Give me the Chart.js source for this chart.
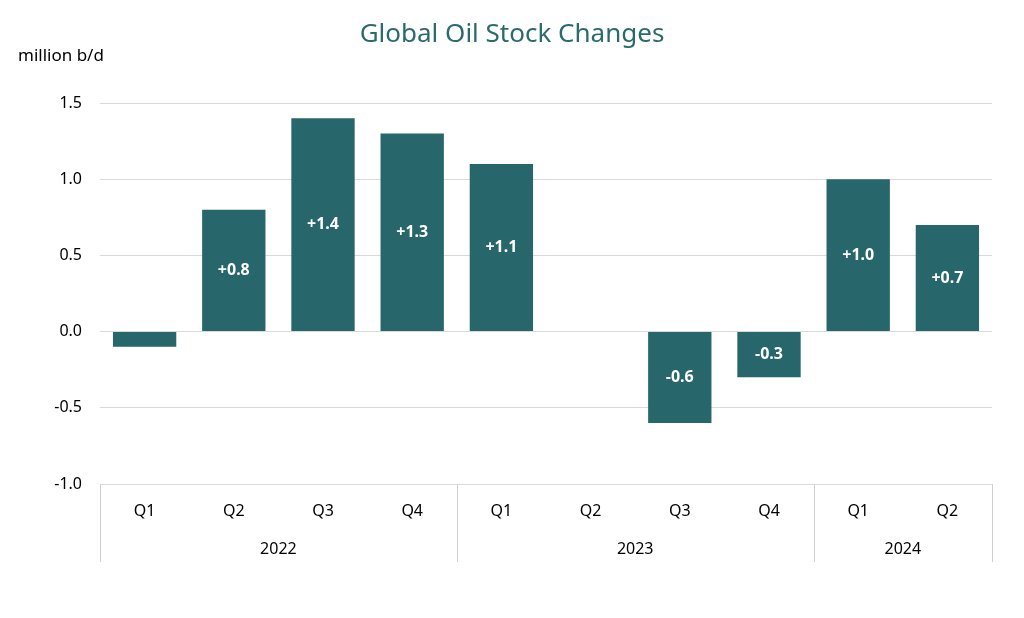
<!DOCTYPE html>
<html>
<head>
<meta charset="utf-8">
<script src="https://cdn.jsdelivr.net/npm/chart.js@4"></script>
<style>body{margin:0;background:#fff}</style>
</head>
<body>
<canvas id="myChart" width="1024" height="618"></canvas>
<script>
  const quarters = ['Q1', 'Q2', 'Q3', 'Q4', 'Q1', 'Q2', 'Q3', 'Q4', 'Q1', 'Q2'];
  const years = ['2022', '2023', '2024'];
  const yearSpans = [4, 4, 2];
  const stockChange = [-0.1, 0.8, 1.4, 1.3, 1.1, 0, -0.6, -0.3, 1.0, 0.7];

  const teal = '#27666b';
  const font = '"Noto Sans", "Liberation Sans", sans-serif';

  const extras = {
    id: 'extras',
    afterDraw(chart) {
      const ctx = chart.ctx;
      const a = chart.chartArea;
      const x = chart.scales.x;
      const y = chart.scales.y;
      ctx.save();
      // title + unit
      ctx.fillStyle = '#2a6b6e';
      ctx.font = '26px ' + font;
      ctx.textAlign = 'center';
      ctx.textBaseline = 'middle';
      ctx.fillText('Global Oil Stock Changes', 512, 35);
      ctx.fillStyle = '#000';
      ctx.font = '17px ' + font;
      ctx.textAlign = 'left';
      ctx.fillText('million b/d', 18, 56);

      // value labels
      const meta = chart.getDatasetMeta(0);
      ctx.fillStyle = '#fff';
      ctx.font = 'bold 16px ' + font;
      ctx.textAlign = 'center';
      stockChange.forEach((v, i) => {
        if (Math.abs(v) < 0.25) return;
        const bar = meta.data[i];
        const txt = (v > 0 ? '+' : '') + v.toFixed(1);
        ctx.fillText(txt, bar.x, (bar.y + bar.base) / 2);
      });

      // category axis
      ctx.fillStyle = '#000';
      ctx.font = '16px ' + font;
      quarters.forEach((q, i) => ctx.fillText(q, x.getPixelForValue(i), 511));
      const step = (a.right - a.left) / quarters.length;
      ctx.strokeStyle = '#d0d0d0';
      ctx.lineWidth = 1;
      let start = 0;
      const edge = px => {
        ctx.beginPath();
        ctx.moveTo(Math.round(px) + 0.5, a.bottom);
        ctx.lineTo(Math.round(px) + 0.5, a.bottom + 78);
        ctx.stroke();
      };
      edge(a.left);
      years.forEach((yr, j) => {
        const end = start + yearSpans[j];
        const l = a.left + start * step, r = a.left + end * step;
        ctx.fillText(yr, (l + r) / 2, 549);
        edge(r);
        start = end;
      });
      ctx.restore();
    }
  };

  const myChart = new Chart(document.getElementById('myChart'), {
    type: 'bar',
    data: {
      labels: quarters,
      datasets: [{
        data: stockChange,
        backgroundColor: teal,
        barPercentage: 0.71,
        categoryPercentage: 1
      }]
    },
    options: {
      responsive: false,
      animation: false,
      layout: { padding: { top: 103, right: 32, bottom: 134, left: 0 } },
      plugins: { legend: { display: false }, tooltip: { enabled: false } },
      scales: {
        x: { display: false },
        y: {
          min: -1.0,
          max: 1.5,
          afterFit(s) { s.width = 100; },
          border: { display: false },
          grid: { color: '#d9d9d9', drawTicks: false },
          ticks: {
            stepSize: 0.5,
            padding: 18,
            color: '#000',
            font: { size: 16, family: font },
            callback: v => v.toFixed(1)
          }
        }
      }
    },
    plugins: [extras]
  });
</script>
</body>
</html>
